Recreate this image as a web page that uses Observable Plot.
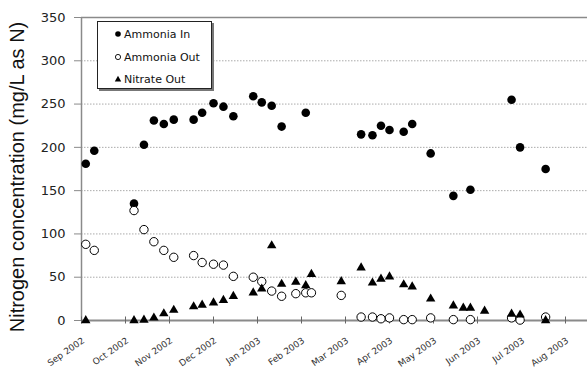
<!DOCTYPE html>
<html><head><meta charset="utf-8">
<script src="https://cdn.jsdelivr.net/npm/d3@7"></script>
<script src="https://cdn.jsdelivr.net/npm/@observablehq/plot@0.6"></script>
<style>
body{margin:0;background:#fff;}
#chart{position:relative;width:587px;height:370px;}
#legend{position:absolute;left:97px;top:21px;width:113px;height:66px;border:1px solid #222;box-shadow:2px 2px 0 #777;background:#fff;font:11px "DejaVu Sans",sans-serif;color:#111;}
.row{position:absolute;left:15px;height:14px;display:flex;align-items:center;white-space:nowrap;}
.row svg{margin-right:1px}
</style></head><body><div id="chart"><div id="legend"></div></div>
<script>
const seriesNames = ["Ammonia In", "Ammonia Out", "Nitrate Out"];
const yLabel = "Nitrogen concentration (mg/L as N)";
const yTicks = [0, 50, 100, 150, 200, 250, 300, 350];
const xTickDates = ["2002-09-01","2002-10-02","2002-11-02","2002-12-03","2003-01-03","2003-02-03","2003-03-06","2003-04-06","2003-05-07","2003-06-07","2003-07-08","2003-08-08"];
const xDomain = ["2002-09-01", "2003-08-23T12:00Z"];

const ammoniaInDates = ["2002-09-04","2002-09-10","2002-10-08","2002-10-15","2002-10-22","2002-10-29","2002-11-05","2002-11-19","2002-11-25","2002-12-03","2002-12-10","2002-12-17","2002-12-31","2003-01-06","2003-01-13","2003-01-20","2003-02-06","2003-03-17","2003-03-25","2003-03-31","2003-04-06","2003-04-16","2003-04-22","2003-05-05","2003-05-21","2003-06-02","2003-07-01","2003-07-07","2003-07-25"];
const ammoniaInValues = [181,196,135,203,231,227,232,232,240,251,247,236,259,252,248,224,240,215,214,225,220,218,227,193,144,151,255,200,175];

const ammoniaOutDates = ["2002-09-04","2002-09-10","2002-10-08","2002-10-15","2002-10-22","2002-10-29","2002-11-05","2002-11-19","2002-11-25","2002-12-03","2002-12-10","2002-12-17","2002-12-31","2003-01-06","2003-01-13","2003-01-20","2003-01-30","2003-02-06","2003-02-10","2003-03-03","2003-03-17","2003-03-25","2003-03-31","2003-04-06","2003-04-16","2003-04-22","2003-05-05","2003-05-21","2003-06-02","2003-07-01","2003-07-07","2003-07-25"];
const ammoniaOutValues = [88,81,127,105,91,81,73,75,67,65,64,51,50,45,34,28,31,32,32,29,4,4,2,3,1,1,3,1,1,3,0.5,4];

const nitrateOutDates = ["2002-09-04","2002-10-08","2002-10-15","2002-10-22","2002-10-29","2002-11-05","2002-11-19","2002-11-25","2002-12-03","2002-12-10","2002-12-17","2002-12-31","2003-01-06","2003-01-13","2003-01-20","2003-01-30","2003-02-06","2003-02-10","2003-03-03","2003-03-17","2003-03-25","2003-03-31","2003-04-06","2003-04-16","2003-04-22","2003-05-05","2003-05-21","2003-05-28","2003-06-02","2003-06-12","2003-07-01","2003-07-07","2003-07-25"];
const nitrateOutValues = [0,0,0.5,3,8,12,16,18,20.5,23.5,28,32,36.5,86.5,42,44.5,40.5,53.5,45,61,43.5,48,50.5,41.5,39,25,17,14.5,14.5,11,7.5,6.5,0];

const toRows = (dates, values) => dates.map((d, i) => ({date: new Date(d), value: values[i]}));
const ammoniaIn = toRows(ammoniaInDates, ammoniaInValues);
const ammoniaOut = toRows(ammoniaOutDates, ammoniaOutValues);
const nitrateOut = toRows(nitrateOutDates, nitrateOutValues);
const xTicks = xTickDates.map(d => new Date(d));
const fmt = d3.utcFormat("%b %Y");

const chart = Plot.plot({
  width: 587, height: 370,
  marginLeft: 81, marginRight: 0, marginTop: 17, marginBottom: 50,
  style: {fontFamily: "DejaVu Sans, sans-serif", background: "white", color: "#222"},
  x: {type: "utc", domain: xDomain.map(d => new Date(d))},
  y: {domain: [yTicks[0], yTicks[yTicks.length - 1]]},
  marks: [
    Plot.gridY(yTicks.slice(1, -1), {stroke: "#aaa", strokeOpacity: 1, strokeDasharray: "1.5,1.5"}),
    Plot.ruleY([yTicks[yTicks.length - 1]], {stroke: "#8a8a8a", strokeWidth: 1.5}),
    Plot.ruleY([yTicks[0]], {stroke: "#8a8a8a", strokeWidth: 2}),
    Plot.ruleX([xTicks[0]], {stroke: "#8a8a8a", strokeWidth: 1.5}),
    Plot.axisY(yTicks, {tickSize: 7, tickPadding: 9, fontSize: 13, label: null, stroke: "#8a8a8a", fill: "#222"}),
    Plot.axisX(xTicks, {tickSize: 7, dy: -3.5, tickFormat: () => "", label: null, stroke: "#666"}),
    Plot.axisX(xTicks, {tickSize: 0, tickPadding: 0, tickRotate: -35, textAnchor: "end", lineAnchor: "middle", tickFormat: fmt, fontSize: 9, label: null, fill: "#333", dx: 2, dy: 19}),
    Plot.dot(ammoniaIn, {x: "date", y: "value", r: 4.3, fill: "black", stroke: "none"}),
    Plot.dot(ammoniaOut, {x: "date", y: "value", r: 4.2, fill: "white", stroke: "black", strokeWidth: 1}),
    Plot.dot(nitrateOut, {x: "date", y: "value", symbol: "triangle", r: 3.5, fill: "black", stroke: "none"})
  ]
});
d3.select(chart).append("text")
  .attr("transform", "translate(24,177) rotate(-90)")
  .attr("text-anchor", "middle")
  .attr("font-family", "Liberation Sans, Arial, sans-serif")
  .attr("font-size", 20)
  .attr("fill", "#111")
  .text(yLabel);
const holder = document.getElementById("chart");
holder.insertBefore(chart, holder.firstChild);

// legend
const legendSymbols = [
  '<circle cx="5" cy="5" r="2.8" fill="black"/>',
  '<circle cx="5" cy="5" r="2.6" fill="white" stroke="black" stroke-width="0.9"/>',
  '<path d="M5,1.8 L8.2,7.6 L1.8,7.6 Z" fill="black"/>'
];
const rowTops = [5, 28, 50];
const legend = document.getElementById("legend");
seriesNames.forEach((name, i) => {
  const row = document.createElement("div");
  row.className = "row";
  row.style.top = rowTops[i] + "px";
  row.innerHTML = `<svg width="10" height="10">${legendSymbols[i]}</svg><span>${name}</span>`;
  legend.appendChild(row);
});
</script>
</body></html>
